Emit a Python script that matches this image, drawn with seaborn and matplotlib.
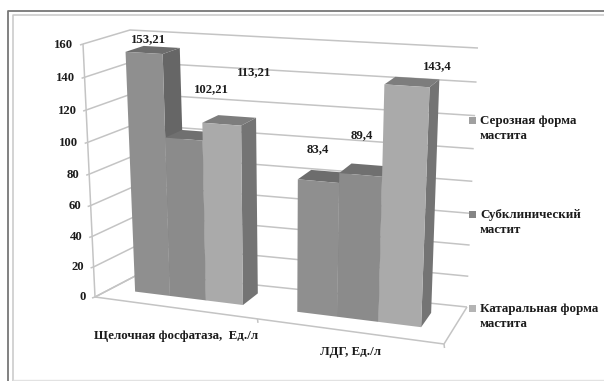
import numpy as np
import pandas as pd
import matplotlib
matplotlib.use("Agg")
import matplotlib.pyplot as plt
import matplotlib.transforms as mtransforms
from matplotlib.patches import Polygon, Rectangle
import seaborn as sns

categories = ["Щелочная фосфатаза,  Ед./л", "ЛДГ, Ед./л"]
series_names = ["Серозная форма\nмастита", "Субклинический\nмастит", "Катаральная форма\nмастита"]
serous = [153.21, 83.4]
subclinical = [102.21, 89.4]
catarrhal = [113.21, 143.4]
value_labels = ["153,21", "83,4", "102,21", "89,4", "113,21", "143,4"]
y_ticks = [0, 20, 40, 60, 80, 100, 120, 140, 160]

W, H = 604, 381
VMAX = 160.0
FONT = "Liberation Serif"

# Box corners of the chart volume in pixels: (right?, top?, back?)
corners = {
    (0, 0, 0): (95, 297), (1, 0, 0): (444, 344),
    (0, 1, 0): (83, 44), (1, 1, 0): (456, 66),
    (0, 0, 1): (141, 273), (1, 0, 1): (467, 307),
    (0, 1, 1): (130, 30), (1, 1, 1): (478, 48),
}
FORESHORTEN_X = 1.148
FORESHORTEN_V = 1.06


def project(x, v, d):
    """Category position x, value v, depth d -> pixel position."""
    x, v, d = np.broadcast_arrays(*map(lambda a: np.asarray(a, float), (x, v, d)))
    u = (x + 0.5) / 2
    u = u / (FORESHORTEN_X + (1 - FORESHORTEN_X) * u)
    t = v / VMAX
    t = t / (FORESHORTEN_V + (1 - FORESHORTEN_V) * t)
    out = np.zeros(x.shape + (2,))
    for (i, j, k), c in corners.items():
        w = (u if i else 1 - u) * (t if j else 1 - t) * (d if k else 1 - d)
        out += w[..., None] * np.asarray(c, float)
    return out


class PlaneTransform(mtransforms.Transform):
    """Maps (category, value) on a plane of constant depth to pixels."""
    input_dims = output_dims = 2
    is_separable = False
    has_inverse = False

    def __init__(self, plane_depth):
        super().__init__()
        self.plane_depth = plane_depth

    def transform_non_affine(self, values):
        values = np.asarray(values, float)
        return project(values[:, 0], values[:, 1], self.plane_depth)


sns.set_theme(style="white", rc={"font.family": FONT})
plt.rcParams["font.family"] = [FONT, "DejaVu Serif"]

fig = plt.figure(figsize=(W / 100, H / 100), dpi=100, facecolor="white")
ax = fig.add_axes([0, 0, 1, 1])
ax.set_axis_off()
to_display = mtransforms.Affine2D().scale(1 / W, -1 / H).translate(0, 1) + fig.transFigure

df = pd.DataFrame({
    "category": categories * 3,
    "series": np.repeat(series_names, 2),
    "value": serous + subclinical + catarrhal,
})
front_colors = ["#8f8f8f", "#8b8b8b", "#aaaaaa"]
side_colors = ["#666666", "#676767", "#747474"]
top_colors = ["#6d6d6d", "#707070", "#7d7d7d"]
legend_colors = ["#a0a0a0", "#858585", "#b4b4b4"]

sns.barplot(data=df, x="category", y="value", hue="series", hue_order=series_names,
            palette=front_colors, width=0.68, gap=0, saturation=1, legend=False,
            linewidth=0, edgecolor="none", ax=ax)
ax.set_axis_off()

D0, D1 = 0.35, 0.75
GRID = "#c4c4c4"
INK = "#1c1c1c"


def line(points, zorder=1, color=GRID, lw=1.1):
    pts = np.asarray(points)
    ax.plot(pts[:, 0], pts[:, 1], color=color, lw=lw, transform=to_display,
            clip_on=False, zorder=zorder, solid_capstyle="butt")


# Walls: gridlines across the left and the back wall, with their tick marks
for tick in y_ticks:
    line([project(-0.5, tick, 0), project(-0.5, tick, 1), project(1.5, tick, 1)])
    p = project(-0.5, tick, 0)
    line([p, p + (-3, 1)])
    ax.text(p[0] - 9.5, p[1] + 0.5, str(tick), transform=to_display, ha="right", va="center",
            fontsize=9.2, fontweight="bold", color=INK, clip_on=False)

# Vertical axis and floor outline
line([project(-0.5, 0, 0), project(-0.5, VMAX, 0)])
line([project(-0.5, 0, 0), project(1.5, 0, 0), project(1.5, 0, 1)])
for x in (0.5, 1.5):
    p = project(x, 0, 0)
    line([p, p + (0.5, 4)])
p0, p1 = project(-0.5, 0, 0), project(-0.5, 0, 1)
line([p0, p1])

# Bars: seaborn's rectangles become front faces, side and top faces share their geometry
bars = []
for idx, container in enumerate(ax.containers):
    for patch in container.patches:
        bars.append((patch.get_x(), idx, patch))
bars.sort(key=lambda b: b[0])
for order, (_, idx, patch) in enumerate(bars):
    x0, x1, v = patch.get_x(), patch.get_x() + patch.get_width(), patch.get_height()
    z = 3 + order
    side = [project(x1, 0, D0), project(x1, v, D0), project(x1, v, D1), project(x1, 0, D1)]
    top = [project(x0, v, D0), project(x1, v, D0), project(x1, v, D1), project(x0, v, D1)]
    ax.add_patch(Polygon(side, closed=True, transform=to_display, fc=side_colors[idx], ec="none",
                         zorder=z, clip_on=False))
    ax.add_patch(Polygon(top, closed=True, transform=to_display, fc=top_colors[idx], ec="none",
                         zorder=z, clip_on=False))
    patch.set_transform(PlaneTransform(D0) + to_display)
    patch.set_clip_on(False)
    patch.set_zorder(z + 0.5)

# Value labels
label_xy = [(148, 39), (318, 149), (211, 89), (362, 135), (254, 72), (437, 66)]
for (lx, ly), txt in zip(label_xy, value_labels):
    ax.text(lx, ly, txt, transform=to_display, ha="center", va="center", fontsize=9.2,
            fontweight="bold", color=INK, zorder=30, clip_on=False)

# Category labels
for (lx, ly), txt in zip([(176, 336), (351, 352)], categories):
    ax.text(lx, ly, txt, transform=to_display, ha="center", va="center", fontsize=9.3,
            fontweight="bold", color=INK, zorder=30, clip_on=False)

# Legend
for (ly, txt, col) in zip([120, 214, 308], series_names, legend_colors):
    ax.add_patch(Rectangle((469, ly - 3.5), 7, 7, transform=to_display, fc=col, ec="none",
                           zorder=30, clip_on=False))
    ax.text(480, ly + 8.5, txt, transform=to_display, ha="left", va="center", fontsize=9.4,
            fontweight="bold", color=INK, linespacing=1.32, zorder=30, clip_on=False)

# Double frame around the chart
frame_dark, frame_light = "#777777", "#c8c8c8"
line([(8, 381), (8, 10.5), (604, 10.5)], zorder=40, color=frame_dark, lw=1.3)
line([(12.5, 381), (12.5, 14.5), (604, 14.5)], zorder=40, color=frame_light, lw=1.1)
line([(12.5, 380), (604, 380)], zorder=40, color="#e2e2e2", lw=1)

ax.set_xlim(-0.5, 1.5)
ax.set_ylim(0, VMAX)
fig.savefig("out.png", dpi=100, facecolor="white")
